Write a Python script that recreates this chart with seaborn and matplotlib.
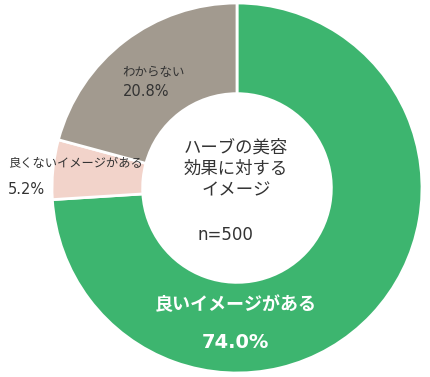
import matplotlib
matplotlib.use("Agg")
import matplotlib.pyplot as plt
import seaborn as sns

categories = ["良いイメージがある", "良くないイメージがある", "わからない"]
values = [74.0, 5.2, 20.8]
pct_labels = ["74.0%", "5.2%", "20.8%"]
colors = ["#3DB56F", "#F2D3CA", "#A29A8F"]
center_title = "ハーブの美容\n効果に対する\nイメージ"
n_label = "n=500"

sns.set_theme(style="white")
plt.rcParams['font.family'] = ['Noto Sans CJK JP', 'DejaVu Sans']
numfont = ['DejaVu Sans']

fig = plt.figure(figsize=(4.31, 3.77), dpi=100)
W, H = 431, 377
cx, cy, R = 237, 189, 185
ax = fig.add_axes([(cx - R) / W, (cy - R) / H, 2 * R / W, 2 * R / H])
ax.pie(values, colors=colors, startangle=90, counterclock=False, radius=1.0,
       wedgeprops=dict(width=0.49, edgecolor="white", linewidth=2))
ax.set_xlim(-1, 1)
ax.set_ylim(-1, 1)
ax.axis("off")

def px(x, y):
    return ((x - cx) / R, (H - y - cy) / R)

dark = "#333333"
ax.text(*px(236, 305), categories[0], ha="center", va="center", fontsize=13,
        fontweight="bold", color="white")
ax.text(*px(235, 342), pct_labels[0], ha="center", va="center", fontsize=14,
        fontweight="bold", color="white", family=numfont)
ax.text(*px(8, 163), categories[1], ha="left", va="center", fontsize=8.8, color=dark)
ax.text(*px(8, 189), pct_labels[1], ha="left", va="center", fontsize=10.5,
        color=dark, family=numfont)
ax.text(*px(122, 72), categories[2], ha="left", va="center", fontsize=9, color=dark)
ax.text(*px(123, 91), pct_labels[2], ha="left", va="center", fontsize=10.5,
        color=dark, family=numfont)
ax.text(*px(236, 169), center_title, ha="center", va="center", fontsize=12.5,
        color=dark, linespacing=1.25)
ax.text(*px(225, 235), n_label, ha="center", va="center", fontsize=12,
        color=dark, family=numfont)

fig.savefig("out.png", dpi=100)
